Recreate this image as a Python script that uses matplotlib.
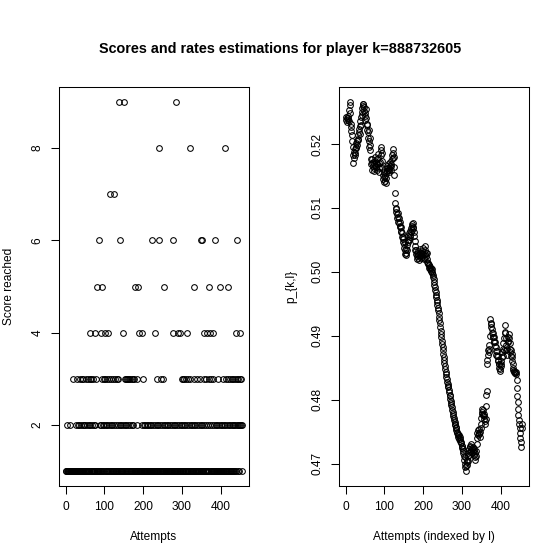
import numpy as np
import matplotlib
matplotlib.use("Agg")
import matplotlib.pyplot as plt

plt.rcParams['font.family'] = ['Liberation Sans', 'DejaVu Sans']

title = "Scores and rates estimations for player k=888732605"
n_attempts = 455

# attempts (1-based) with score other than 1
score2_at = [3, 10, 28, 32, 35, 40, 44, 48, 51, 55, 59, 63, 68, 72, 76, 88, 92, 96, 100, 104,
             108, 112, 116, 120, 125, 130, 135, 139, 144, 148, 153, 157, 162, 166, 171, 175, 184,
             198, 202, 206, 209, 213, 217, 221, 226, 231, 235, 239, 243, 248, 253, 257, 261, 265,
             270, 274, 279, 283, 287, 292, 297, 301, 305, 309, 313, 318, 323, 327, 331, 335, 340,
             344, 348, 353, 358, 363, 367, 372, 377, 382, 387, 391, 396, 400, 404, 408, 412, 416,
             421, 425, 428, 432, 435, 438, 441, 444, 447, 450, 452, 454]
score3_at = [20, 30, 36, 41, 46, 52, 57, 62, 66, 70, 75, 79, 95, 98, 102, 106, 111, 117, 122,
             127, 133, 136, 152, 155, 158, 161, 164, 167, 170, 173, 176, 180, 183, 200, 224, 230,
             236, 246, 252, 296, 299, 302, 306, 310, 316, 322, 330, 338, 346, 352, 357, 362, 370,
             376, 381, 393, 398, 405, 410, 414, 420, 424, 429, 433, 437, 442, 445, 449, 453]
score4_at = [64, 75, 90, 101, 110, 147, 190, 197, 230, 276, 291, 296, 314, 356, 366, 373, 380,
             439, 451]
score5_at = [81, 94, 180, 188, 255, 332, 371, 398, 418]
score6_at = [86, 140, 224, 240, 278, 350, 352, 386, 443]
score7_at = [114, 124]
score8_at = [242, 321, 410]
score9_at = [138, 151, 285]

p_kl = [
    0.5238, 0.5242, 0.5235, 0.5240, 0.5244, 0.5238, 0.5241, 0.5236, 0.5253, 0.5261,
    0.5266, 0.5248, 0.5232, 0.5226, 0.5220, 0.5214, 0.5205, 0.5195, 0.5183, 0.5170,
    0.5178, 0.5188, 0.5182, 0.5192, 0.5186, 0.5196, 0.5201, 0.5193, 0.5204, 0.5198,
    0.5208, 0.5214, 0.5206, 0.5218, 0.5224, 0.5216, 0.5228, 0.5236, 0.5230, 0.5242,
    0.5250, 0.5246, 0.5256, 0.5262, 0.5260, 0.5263, 0.5258, 0.5252, 0.5244, 0.5238,
    0.5248, 0.5255, 0.5240, 0.5230, 0.5222, 0.5232, 0.5218, 0.5210, 0.5222, 0.5204,
    0.5196, 0.5210, 0.5198, 0.5190, 0.5176, 0.5168, 0.5160, 0.5170, 0.5176, 0.5166,
    0.5172, 0.5162, 0.5168, 0.5158, 0.5165, 0.5174, 0.5180, 0.5170, 0.5164, 0.5160,
    0.5168, 0.5176, 0.5184, 0.5178, 0.5170, 0.5162, 0.5156, 0.5164, 0.5172, 0.5182,
    0.5190, 0.5196, 0.5186, 0.5174, 0.5162, 0.5152, 0.5145, 0.5140, 0.5148, 0.5156,
    0.5150, 0.5142, 0.5139, 0.5146, 0.5154, 0.5162, 0.5158, 0.5165, 0.5160, 0.5168,
    0.5162, 0.5156, 0.5160, 0.5166, 0.5172, 0.5166, 0.5160, 0.5168, 0.5176, 0.5182,
    0.5178, 0.5186, 0.5192, 0.5180, 0.5164, 0.5152, 0.5124, 0.5108, 0.5100, 0.5094,
    0.5098, 0.5090, 0.5084, 0.5092, 0.5086, 0.5078, 0.5084, 0.5076, 0.5070, 0.5078,
    0.5072, 0.5064, 0.5070, 0.5062, 0.5055, 0.5060, 0.5052, 0.5046, 0.5054, 0.5044,
    0.5038, 0.5046, 0.5034, 0.5028, 0.5036, 0.5030, 0.5026, 0.5034, 0.5042, 0.5050,
    0.5046, 0.5056, 0.5050, 0.5060, 0.5054, 0.5064, 0.5058, 0.5068, 0.5062, 0.5072,
    0.5066, 0.5074, 0.5068, 0.5076, 0.5070, 0.5062, 0.5056, 0.5048, 0.5040, 0.5034,
    0.5028, 0.5034, 0.5024, 0.5030, 0.5020, 0.5026, 0.5032, 0.5022, 0.5028, 0.5018,
    0.5024, 0.5030, 0.5036, 0.5026, 0.5022, 0.5030, 0.5024, 0.5032, 0.5038, 0.5028,
    0.5022, 0.5026, 0.5020, 0.5028, 0.5034, 0.5040, 0.5030, 0.5024, 0.5030, 0.5020,
    0.5016, 0.5012, 0.5014, 0.5010, 0.5006, 0.5010, 0.5004, 0.5008, 0.5002, 0.5006,
    0.5001, 0.5004, 0.5000, 0.4998, 0.4995, 0.4992, 0.4988, 0.4984, 0.4980, 0.4976,
    0.4972, 0.4968, 0.4964, 0.4960, 0.4956, 0.4952, 0.4948, 0.4944, 0.4940, 0.4935,
    0.4930, 0.4925, 0.4920, 0.4914, 0.4908, 0.4903, 0.4898, 0.4892, 0.4887, 0.4882,
    0.4877, 0.4872, 0.4867, 0.4862, 0.4857, 0.4852, 0.4848, 0.4844, 0.4840, 0.4836,
    0.4832, 0.4828, 0.4825, 0.4822, 0.4819, 0.4815, 0.4812, 0.4808, 0.4805, 0.4801,
    0.4798, 0.4795, 0.4791, 0.4788, 0.4784, 0.4781, 0.4778, 0.4774, 0.4771, 0.4768,
    0.4765, 0.4762, 0.4760, 0.4757, 0.4755, 0.4752, 0.4750, 0.4748, 0.4746, 0.4744,
    0.4742, 0.4745, 0.4739, 0.4742, 0.4736, 0.4738, 0.4732, 0.4734, 0.4728, 0.4724,
    0.4728, 0.4720, 0.4716, 0.4722, 0.4712, 0.4706, 0.4710, 0.4700, 0.4694, 0.4688,
    0.4696, 0.4702, 0.4698, 0.4706, 0.4712, 0.4704, 0.4716, 0.4722, 0.4714, 0.4726,
    0.4718, 0.4728, 0.4720, 0.4730, 0.4722, 0.4716, 0.4724, 0.4718, 0.4726, 0.4720,
    0.4714, 0.4722, 0.4716, 0.4710, 0.4706, 0.4712, 0.4720, 0.4730, 0.4740, 0.4748,
    0.4744, 0.4752, 0.4746, 0.4754, 0.4748, 0.4742, 0.4750, 0.4756, 0.4762, 0.4772,
    0.4780, 0.4786, 0.4778, 0.4784, 0.4776, 0.4770, 0.4778, 0.4774, 0.4766, 0.4762,
    0.4770, 0.4790, 0.4808, 0.4813, 0.4855, 0.4862, 0.4870, 0.4878, 0.4885, 0.4880,
    0.4874, 0.4900, 0.4926, 0.4920, 0.4914, 0.4918, 0.4910, 0.4904, 0.4898, 0.4904,
    0.4898, 0.4892, 0.4898, 0.4890, 0.4884, 0.4890, 0.4882, 0.4876, 0.4870, 0.4876,
    0.4868, 0.4862, 0.4868, 0.4860, 0.4856, 0.4850, 0.4856, 0.4848, 0.4845, 0.4852,
    0.4860, 0.4856, 0.4866, 0.4874, 0.4868, 0.4880, 0.4888, 0.4878, 0.4896, 0.4904,
    0.4916, 0.4906, 0.4896, 0.4886, 0.4878, 0.4870, 0.4880, 0.4890, 0.4898, 0.4892,
    0.4902, 0.4896, 0.4888, 0.4880, 0.4874, 0.4868, 0.4878, 0.4872, 0.4866, 0.4860,
    0.4856, 0.4850, 0.4846, 0.4843, 0.4845, 0.4842, 0.4844, 0.4841, 0.4843, 0.4840,
    0.4830, 0.4818, 0.4806, 0.4796, 0.4786, 0.4776, 0.4768, 0.4762, 0.4756, 0.4748,
    0.4740, 0.4733, 0.4726, 0.4756, 0.4762,
]

x_ticks = [0, 100, 200, 300, 400]
left_yticks = [2, 4, 6, 8]
right_yticks = [0.47, 0.48, 0.49, 0.50, 0.51, 0.52]
right_yticklabels = ["0.47", "0.48", "0.49", "0.50", "0.51", "0.52"]

# build score series
scores = np.ones(n_attempts)
for lvl, lst in [(2, score2_at), (3, score3_at), (4, score4_at), (5, score5_at),
                 (6, score6_at), (7, score7_at), (8, score8_at), (9, score9_at)]:
    for a in lst:
        if 1 <= a <= n_attempts:
            scores[a - 1] = lvl
attempts = np.arange(1, n_attempts + 1)
p_arr = np.array(p_kl)
p_idx = np.arange(1, len(p_arr) + 1)


def rlim(v):
    lo, hi = float(np.min(v)), float(np.max(v))
    d = (hi - lo) * 0.04
    return lo - d, hi + d


fig = plt.figure(figsize=(5.6, 5.6), dpi=100)
W = H = 560.0
axL = fig.add_axes([59 / W, 1 - 486 / H, 190 / W, 399 / H])
axR = fig.add_axes([339 / W, 1 - 486 / H, 190 / W, 399 / H])

mk = dict(linestyle='none', marker='o', markersize=4.1, markerfacecolor='none',
          markeredgecolor='black', markeredgewidth=0.75)

axL.plot(attempts, scores, **mk)
axR.plot(p_idx, p_arr, **mk)

axL.set_xlim(*rlim(attempts))
axL.set_ylim(*rlim(scores))
axR.set_xlim(*rlim(p_idx))
axR.set_ylim(*rlim(p_arr))

fs = 8.6
for ax in (axL, axR):
    ax.set_xticks(x_ticks)
    ax.set_xticklabels([str(t) for t in x_ticks])
    ax.tick_params(direction='out', length=6, width=0.75, labelsize=fs, pad=5, colors='black')
    for s in ax.spines.values():
        s.set_linewidth(0.75)
        s.set_color('black')

axL.set_yticks(left_yticks)
axL.set_yticklabels([str(t) for t in left_yticks], rotation=90, va='center')
axR.set_yticks(right_yticks)
axR.set_yticklabels(right_yticklabels, rotation=90, va='center')

axL.set_xlabel("Attempts", fontsize=fs)
axL.xaxis.set_label_coords(0.5, -51 / 399)
axL.xaxis.label.set_va('center')
axL.set_ylabel("Score reached", fontsize=fs)
axL.yaxis.set_label_coords(-50 / 190, 0.5)
axL.yaxis.label.set_va('center')

axR.set_xlabel("Attempts (indexed by l)", fontsize=fs)
axR.xaxis.set_label_coords(0.5, -51 / 399)
axR.xaxis.label.set_va('center')
axR.set_ylabel("p_{k,l}", fontsize=fs)
axR.yaxis.set_label_coords(-48 / 190, 0.5)
axR.yaxis.label.set_va('center')

fig.text(0.5, 1 - 49 / H, title, ha='center', va='center', fontsize=10.4, fontweight='bold')

fig.savefig("out.png", dpi=100)
